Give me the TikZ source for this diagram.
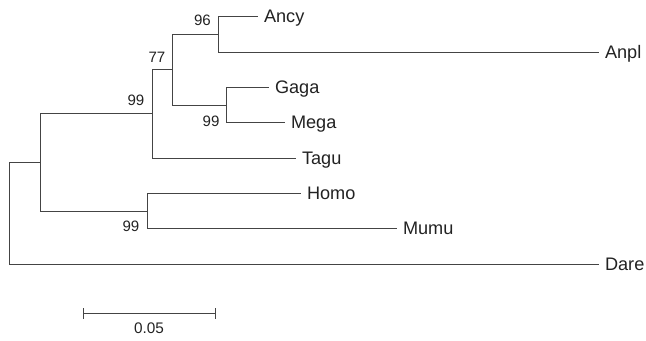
\documentclass[tikz,border=0pt]{standalone}
\usepackage{fontspec}
\setmainfont{Liberation Sans}
\definecolor{branch}{HTML}{444444}
\definecolor{ink}{HTML}{222222}
\begin{document}
\begin{tikzpicture}[x=0.75pt,y=-0.75pt,
  edge/.style={draw=branch,line width=1.1pt},
  taxon/.style={anchor=base west,inner sep=0pt,text=ink,
    font=\fontsize{13.6}{16}\selectfont},
  boot/.style={inner sep=0pt,text=ink,font=\fontsize{11.3}{13}\selectfont},
  scalelbl/.style={inner sep=0pt,text=ink,font=\fontsize{11.5}{13}\selectfont}]
\useasboundingbox (0,0) rectangle (646,341);

\begin{scope}[shift={(0.5,0.5)}]
% internal nodes (placed at the middle of their vertical bars)
\coordinate (root) at (9,213);
\coordinate (n1) at (40,162);
\coordinate (n2) at (152,113);
\coordinate (n3) at (172,69);
\coordinate (n4) at (218,34);
\coordinate (n6) at (226,105);
\coordinate (n5) at (147,211);

% tips of the terminal branches
\coordinate (tAncy) at (257,16);
\coordinate (tAnpl) at (598,52);
\coordinate (tGaga) at (268,87);
\coordinate (tMega) at (284,122);
\coordinate (tTagu) at (295,158);
\coordinate (tHomo) at (300,193);
\coordinate (tMumu) at (396,228);
\coordinate (tDare) at (598,264);

% branches
\path[edge] (root) |- (n1);
\path[edge] (root) |- (tDare);
\path[edge] (n1) |- (n2);
\path[edge] (n1) |- (n5);
\path[edge] (n2) |- (n3);
\path[edge] (n2) |- (tTagu);
\path[edge] (n3) |- (n4);
\path[edge] (n3) |- (n6);
\path[edge] (n4) |- (tAncy);
\path[edge] (n4) |- (tAnpl);
\path[edge] (n6) |- (tGaga);
\path[edge] (n6) |- (tMega);
\path[edge] (n5) |- (tHomo);
\path[edge] (n5) |- (tMumu);

% scale bar
\coordinate (sL) at (83,313);
\coordinate (sR) at (215,313);
\path[edge] (sL) -- (sR);
\path[edge] ([yshift=3.9pt]sL) -- ([yshift=-4.2pt]sL);
\path[edge] ([yshift=3.9pt]sR) -- ([yshift=-4.2pt]sR);
\end{scope}

% taxon names
\foreach \t in {Ancy,Anpl,Gaga,Mega,Tagu,Homo,Mumu,Dare}
  \node[taxon] (\t) at ([xshift=4.7pt,yshift=-4.6pt]t\t) {\t};

% bootstrap values
\node[boot] (b96) at (202.5,20) {96};
\node[boot] (b77) at (157,57) {77};
\node[boot] (b99a) at (136,100) {99};
\node[boot] (b99b) at (211,121) {99};
\node[boot] (b99c) at (131,226) {99};

% scale label
\node[scalelbl] (scale) at (149,328) {0.05};
\end{tikzpicture}
\end{document}
